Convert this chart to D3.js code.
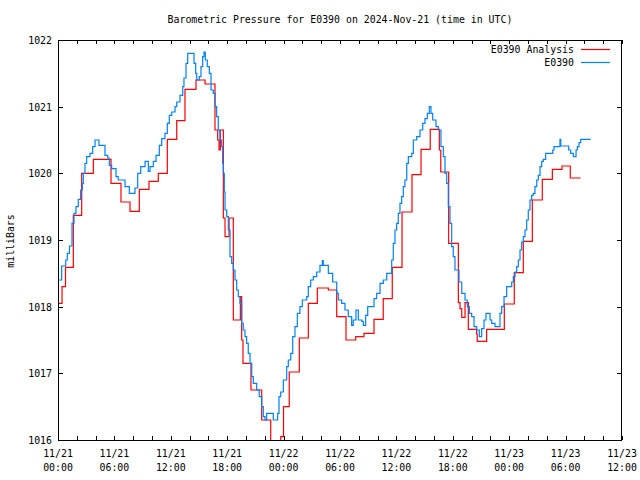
<!DOCTYPE html>
<html><head><meta charset="utf-8">
<script src="https://cdn.jsdelivr.net/npm/d3@7"></script>
<style>
html,body{margin:0;padding:0;background:#fff;}
text{font-family:"DejaVu Sans Mono",monospace;font-size:9.9px;fill:#000;}
</style></head>
<body>
<svg id="c" width="640" height="480"></svg>
<script>
const titleText = "Barometric Pressure for E0390 on 2024-Nov-21 (time in UTC)";
const yLabel = "milliBars";
const seriesNames = ["E0390 Analysis", "E0390"];
const seriesColors = ["#ff0000", "#0080ff"];
const startTime = Date.UTC(2024, 10, 21, 0, 0);
const endHours = 60;
const yTicks = [1016, 1017, 1018, 1019, 1020, 1021, 1022];
const xMajorHours = [0, 6, 12, 18, 24, 30, 36, 42, 48, 54, 60];
const xMinorHours = d3.range(0, 61, 2);

// Analysis (hours after 11/21 00:00 UTC, mb)
const redHours = [0,0.43,0.8,1.63,2.52,3.76,5.64,6.7,7.66,8.65,9.68,10.67,11.63,12.63,13.51,14.68,15.64,16.7,16.99,17.13,17.27,17.59,17.77,18.2,18.65,19.4,19.54,19.68,20.53,21.67,22.63,23.7,23.99,24.6,25.67,26.63,27.59,28.76,29.65,30.64,31.67,32.55,33.62,34.6,35.56,36.6,37.66,38.62,39.6,40.57,40.72,41.56,42.59,42.77,42.95,43.3,43.65,44.54,44.6,45.6,47.48,48.54,49.5,50.46,51.52,52.59,53.62,54.5,55.6];
const redValues = [1018.05,1018.3,1018.59,1019.37,1020.0,1020.21,1019.85,1019.57,1019.43,1019.76,1019.88,1020.0,1020.51,1020.79,1021.26,1021.4,1021.34,1020.65,1020.5,1020.35,1020.65,1019.33,1019.05,1019.33,1017.8,1018.15,1017.5,1017.15,1016.75,1016.3,1015.8,1016.05,1016.5,1017.02,1017.53,1018.05,1018.28,1018.25,1017.85,1017.5,1017.55,1017.6,1017.81,1018.12,1018.59,1019.42,1019.98,1020.36,1020.66,1020.35,1020.02,1018.95,1018.06,1017.97,1017.84,1018.06,1017.66,1017.59,1017.48,1017.66,1018.04,1018.51,1018.98,1019.6,1019.91,1020.06,1020.11,1019.93,1019.93];

// Observations
const blueHours = [0.11,0.39,0.82,0.99,1.22,1.49,1.70,1.91,2.16,2.41,2.59,2.69,2.87,3.05,3.40,3.69,3.94,4.36,5.0,5.29,5.46,5.71,6.17,6.41,7.13,7.59,8.19,8.48,8.8,9.26,9.61,9.79,10.14,10.43,10.78,11.03,11.38,11.63,11.84,12.1,12.45,12.63,12.98,13.27,13.4,13.62,13.8,14.47,14.65,14.76,15.03,15.21,15.39,15.53,15.67,15.88,16.1,16.28,16.52,16.7,16.88,17.05,17.23,17.41,17.52,17.59,17.69,17.77,17.95,18.12,18.3,18.48,18.65,18.83,19.01,19.18,19.36,19.54,19.71,19.89,20.07,20.24,20.43,20.61,20.78,21.14,21.41,21.67,21.84,22.02,22.2,22.9,23.37,23.51,23.69,23.97,24.33,24.5,24.76,24.97,25.21,25.46,25.74,25.99,26.46,26.63,26.88,27.16,27.52,27.87,28.12,28.22,28.76,29.22,29.65,29.82,30.18,30.53,30.88,31.24,31.41,31.7,31.95,32.31,32.48,32.73,32.95,33.62,33.9,34.26,34.61,34.97,35.5,35.67,35.85,36.03,36.2,36.38,36.56,36.73,36.91,37.1,37.27,37.63,37.8,38.16,38.51,38.8,39.04,39.29,39.5,39.68,39.86,40.21,40.46,40.74,40.99,41.17,41.35,41.52,41.7,41.88,42.05,42.23,42.66,42.95,43.3,43.54,43.76,44.01,44.26,44.54,44.82,45.07,45.32,45.53,45.96,46.14,46.49,47.02,47.2,47.45,47.73,48.27,48.44,48.62,48.8,48.97,49.15,49.33,49.5,49.68,49.86,50.03,50.21,50.39,50.56,50.74,50.93,51.1,51.28,51.46,51.63,51.88,52.63,52.77,53.4,53.48,54.33,54.54,54.82,55.11,55.25,55.43,55.61,56.67];
const blueValues = [1018.4,1018.61,1018.7,1018.8,1018.91,1019.25,1019.4,1019.5,1019.61,1019.75,1019.85,1020.0,1020.15,1020.25,1020.3,1020.4,1020.5,1020.42,1020.27,1020.23,1020.12,1020.07,1019.95,1019.9,1019.8,1019.7,1019.78,1020.0,1020.1,1020.18,1020.03,1020.1,1020.18,1020.27,1020.42,1020.52,1020.6,1020.75,1020.87,1020.92,1021.0,1021.07,1021.17,1021.3,1021.43,1021.65,1021.8,1021.65,1021.5,1021.4,1021.45,1021.6,1021.75,1021.82,1021.7,1021.6,1021.5,1021.25,1021.2,1021.0,1020.85,1020.65,1020.5,1020.4,1020.15,1020.0,1019.72,1019.45,1019.35,1019.15,1018.75,1018.65,1018.55,1018.4,1018.25,1018.15,1018.05,1017.75,1017.65,1017.55,1017.45,1017.3,1017.15,1016.95,1016.85,1016.75,1016.65,1016.5,1016.35,1016.3,1016.4,1016.3,1016.4,1016.65,1016.72,1016.9,1017.1,1017.2,1017.3,1017.55,1017.7,1017.9,1018.0,1018.1,1018.15,1018.3,1018.4,1018.45,1018.52,1018.62,1018.69,1018.62,1018.5,1018.37,1018.2,1018.1,1018.05,1017.95,1017.85,1017.72,1017.8,1017.95,1017.8,1017.78,1017.72,1017.87,1018.0,1018.12,1018.2,1018.35,1018.4,1018.5,1018.7,1018.95,1019.15,1019.25,1019.4,1019.55,1019.65,1019.8,1019.9,1020.15,1020.25,1020.3,1020.5,1020.55,1020.65,1020.75,1020.82,1020.9,1021.0,1020.9,1020.8,1020.7,1020.65,1020.4,1020.25,1020.0,1019.85,1019.5,1019.25,1018.9,1018.75,1018.55,1018.37,1018.2,1018.1,1018.0,1017.9,1017.85,1017.7,1017.65,1017.55,1017.67,1017.8,1017.9,1017.8,1017.75,1017.7,1017.9,1018.0,1018.15,1018.3,1018.37,1018.45,1018.52,1018.6,1018.7,1018.85,1018.97,1019.05,1019.15,1019.3,1019.45,1019.6,1019.67,1019.7,1019.8,1019.9,1019.97,1020.1,1020.18,1020.21,1020.3,1020.35,1020.4,1020.51,1020.41,1020.35,1020.3,1020.25,1020.35,1020.4,1020.46,1020.51,1020.51];

const hourMs = 3600000;
const toDate = h => new Date(startTime + h * hourMs);

const L = 58, R = 622, T = 40, B = 440;
const svg = d3.select("#c");
const x = d3.scaleUtc().domain([toDate(0), toDate(endHours)]).range([L, R]);
const y = d3.scaleLinear().domain([1016, 1022]).range([B, T]);

svg.append("defs").append("clipPath").attr("id", "clip")
  .append("rect").attr("x", L).attr("y", T).attr("width", R - L).attr("height", B - T);

// ticks (inward), bottom/top and left/right
const tickG = svg.append("g").attr("stroke", "#000").attr("stroke-width", 1).attr("shape-rendering", "crispEdges");
xMinorHours.forEach(h => {
  const px = Math.round(x(toDate(h))) + 0.5;
  tickG.append("line").attr("x1", px).attr("x2", px).attr("y1", B).attr("y2", B - 4);
  tickG.append("line").attr("x1", px).attr("x2", px).attr("y1", T).attr("y2", T + 4);
});
yTicks.forEach(v => {
  const py = Math.round(y(v)) + 0.5;
  tickG.append("line").attr("x1", L).attr("x2", L + 5).attr("y1", py).attr("y2", py);
  tickG.append("line").attr("x1", R).attr("x2", R - 5).attr("y1", py).attr("y2", py);
});

// series
const makeData = (hs, vs) => hs.map((h, i) => ({t: toDate(h), v: vs[i]}));
const line = d3.line().x(d => x(d.t)).y(d => y(d.v)).curve(d3.curveStepAfter);
const plot = svg.append("g").attr("clip-path", "url(#clip)");
plot.append("path").datum(makeData(redHours, redValues))
  .attr("d", line).attr("fill", "none").attr("stroke", seriesColors[0]).attr("stroke-width", 1.2);
plot.append("path").datum(makeData(blueHours, blueValues))
  .attr("d", line).attr("fill", "none").attr("stroke", seriesColors[1]).attr("stroke-width", 1.2);

// frame
svg.append("rect").attr("x", L + 0.5).attr("y", T + 0.5).attr("width", R - L - 1).attr("height", B - T)
  .attr("fill", "none").attr("stroke", "#000").attr("stroke-width", 1).attr("shape-rendering", "crispEdges");

// y labels
yTicks.forEach(v => {
  svg.append("text").attr("x", 52).attr("y", y(v) + 4).attr("text-anchor", "end").text(v);
});
// x labels
const fDate = d3.utcFormat("%m/%d"), fTime = d3.utcFormat("%H:%M");
xMajorHours.forEach(h => {
  const d = toDate(h);
  svg.append("text").attr("x", x(d)).attr("y", 457).attr("text-anchor", "middle").text(fDate(d));
  svg.append("text").attr("x", x(d)).attr("y", 471).attr("text-anchor", "middle").text(fTime(d));
});
// title
svg.append("text").attr("x", 340).attr("y", 23).attr("text-anchor", "middle").text(titleText);
// y axis label
svg.append("text").attr("transform", "translate(14,241) rotate(-90)").attr("text-anchor", "middle").text(yLabel);

// legend
seriesNames.forEach((n, i) => {
  const ly = 49 + i * 13;
  svg.append("text").attr("x", 574).attr("y", ly + 4).attr("text-anchor", "end").text(n);
  svg.append("line").attr("x1", 581).attr("x2", 610).attr("y1", ly + 0.5).attr("y2", ly + 0.5)
    .attr("stroke", seriesColors[i]).attr("stroke-width", 1.2);
});
</script>
</body></html>
